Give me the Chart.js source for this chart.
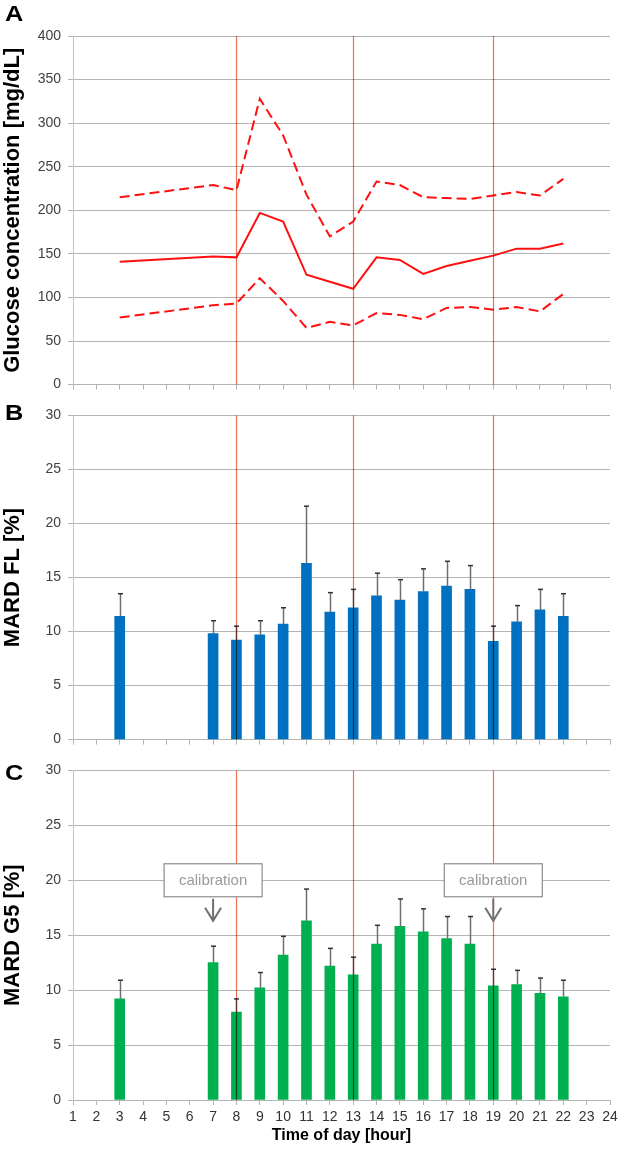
<!DOCTYPE html>
<html>
<head>
<meta charset="utf-8">
<script src="https://cdn.jsdelivr.net/npm/chart.js@4.4.1/dist/chart.umd.min.js"></script>
<style>
  body { margin: 0; background: #fff; width: 623px; height: 1151px; position: relative; overflow: hidden;
         font-family: "Liberation Sans", Arial, sans-serif; }
  .panel { position: absolute; left: 0; width: 623px; }
  .letter { position: absolute; left: 5px; font-weight: bold; font-size: 22px; line-height: 1; color: #000; transform: scaleX(1.15); transform-origin: left; }
</style>
</head>
<body>
<div class="panel" style="top:0;height:400px"><canvas id="chartA"></canvas></div>
<div class="panel" style="top:400px;height:355px"><canvas id="chartB"></canvas></div>
<div class="panel" style="top:755px;height:396px"><canvas id="chartC"></canvas></div>
<div class="letter" style="top:3px">A</div>
<div class="letter" style="top:402px">B</div>
<div class="letter" style="top:762px">C</div>
<script>
const hours = ['1','2','3','4','5','6','7','8','9','10','11','12','13','14','15','16','17','18','19','20','21','22','23','24'];

// panel A - glucose (mg/dL)
const glucoseMean  = [null,null,141,null,null,null,147,146,197,187,126,118,110,146,143,127,136,142,148,156,156,162,null,null];
const glucoseUpper = [null,null,215,null,null,null,229,223,328,286,218,170,187,233,229,215,214,213,217,221,217,236,null,null];
const glucoseLower = [null,null,77,null,null,null,91,93,122,96,65,72,68,82,80,75,88,89,86,89,84,104,null,null];

// panel B - MARD FreeStyle Libre (%), with upper end of error bar
const mardFL    = [null,null,11.4,null,null,null,9.8,9.2,9.7,10.7,16.3,11.8,12.2,13.3,12.9,13.7,14.2,13.9,9.1,10.9,12.0,11.4,null,null];
const mardFLTop = [null,null,13.5,null,null,null,11.0,10.5,11.0,12.2,21.6,13.6,13.9,15.4,14.8,15.8,16.5,16.1,10.5,12.4,13.9,13.5,null,null];

// panel C - MARD Dexcom G5 (%)
const mardG5    = [null,null,9.2,null,null,null,12.5,8.0,10.2,13.2,16.3,12.2,11.4,14.2,15.8,15.3,14.7,14.2,10.4,10.5,9.7,9.4,null,null];
const mardG5Top = [null,null,10.9,null,null,null,14.0,9.2,11.6,14.9,19.2,13.8,13.0,15.9,18.3,17.4,16.7,16.7,11.9,11.8,11.1,10.9,null,null];

const mealHours = ['8','13','19'];
const calibrationHours = ['7','19'];
const calibrationLevel = 20;

const GRID = '#b4b4b4';
const TICK_FONT = { family: '"Liberation Sans", Arial, sans-serif', size: 14 };

const extras = {
  id: 'extras',
  afterDatasetsDraw(chart, args, opts) {
    const { ctx, chartArea: a, scales: { x, y } } = chart;
    ctx.save();

    // error bars (upper only)
    if (opts.tops) {
      const vals = chart.data.datasets[0].data;
      opts.tops.forEach((top, i) => {
        if (top == null) return;
        const px = Math.round(x.getPixelForValue(i)) + 0.5;
        const y0 = y.getPixelForValue(vals[i]);
        const y1 = y.getPixelForValue(top);
        ctx.strokeStyle = '#6e6e6e';
        ctx.lineWidth = 1.5;
        ctx.beginPath(); ctx.moveTo(px, y0); ctx.lineTo(px, y1); ctx.stroke();
        ctx.strokeStyle = '#333';
        ctx.beginPath(); ctx.moveTo(px - 2.5, y1); ctx.lineTo(px + 2.5, y1); ctx.stroke();
      });
    }

    // meal time lines
    ctx.globalCompositeOperation = 'multiply';
    ctx.strokeStyle = '#ee7050';
    ctx.lineWidth = 1.2;
    mealHours.forEach(h => {
      const px = Math.round(x.getPixelForValue(hours.indexOf(h))) + 0.5;
      ctx.beginPath(); ctx.moveTo(px, a.top); ctx.lineTo(px, a.bottom); ctx.stroke();
    });
    ctx.globalCompositeOperation = 'source-over';

    // calibration callouts
    if (opts.calibration) {
      calibrationHours.forEach(h => {
        const cx = x.getPixelForValue(hours.indexOf(h));
        const cy = y.getPixelForValue(calibrationLevel);
        const w = 98, ht = 33;
        ctx.fillStyle = '#fff';
        ctx.fillRect(cx - w / 2, cy - ht / 2, w, ht);
        ctx.strokeStyle = '#8c8c8c';
        ctx.lineWidth = 1.2;
        ctx.strokeRect(cx - w / 2, cy - ht / 2, w, ht);
        ctx.fillStyle = '#9a9a9a';
        ctx.font = '15px "Liberation Sans", Arial, sans-serif';
        ctx.textAlign = 'center';
        ctx.textBaseline = 'middle';
        ctx.fillText('calibration', cx, cy + 1);
        // arrow
        const ay0 = cy + ht / 2 + 2, ay1 = cy + ht / 2 + 24;
        ctx.strokeStyle = '#707070';
        ctx.lineWidth = 2;
        ctx.beginPath(); ctx.moveTo(cx, ay0); ctx.lineTo(cx, ay1); ctx.stroke();
        ctx.beginPath(); ctx.moveTo(cx - 8, ay1 - 13); ctx.lineTo(cx, ay1); ctx.lineTo(cx + 8, ay1 - 13); ctx.stroke();
      });
    }
    ctx.restore();
  }
};

function makeOptions(cfg) {
  return {
    responsive: true,
    maintainAspectRatio: false,
    animation: false,
    layout: { padding: { top: cfg.padTop, right: 13, left: 0, bottom: 0 } },
    plugins: {
      legend: { display: false },
      tooltip: { enabled: false },
      extras: { tops: cfg.tops, calibration: cfg.calibration }
    },
    scales: {
      x: {
        type: 'category',
        offset: false,
        grid: { offset: false, drawOnChartArea: false, drawTicks: true, tickLength: 5, color: GRID },
        border: { color: GRID },
        ticks: { display: cfg.xLabels, autoSkip: false, maxRotation: 0, padding: 4, color: '#333', font: TICK_FONT },
        title: {
          display: cfg.xLabels,
          text: 'Time of day [hour]',
          color: '#000',
          font: { family: '"Liberation Sans", Arial, sans-serif', size: 16, weight: 'bold' },
          padding: { top: 0, bottom: 6 }
        },
        afterFit: s => { s.height = cfg.xHeight; }
      },
      y: {
        min: 0,
        max: cfg.yMax,
        ticks: { stepSize: cfg.yStep, padding: 7, color: '#404040', font: TICK_FONT },
        grid: { color: GRID, tickLength: 5 },
        border: { color: '#c4c4c4' },
        title: {
          display: true,
          text: cfg.yTitle,
          color: '#000',
          font: { family: '"Liberation Sans", Arial, sans-serif', size: 22, weight: 'bold' },
          padding: { top: 0, bottom: 0 }
        },
        afterFit: s => { s.width = 73; }
      }
    }
  };
}

new Chart(document.getElementById('chartA'), {
  type: 'line',
  data: {
    labels: hours,
    datasets: [
      { data: glucoseMean, borderColor: '#ff1010', borderWidth: 2, pointRadius: 0, spanGaps: true, tension: 0 },
      { data: glucoseUpper, borderColor: '#ff1010', borderWidth: 2, borderDash: [10, 5], pointRadius: 0, spanGaps: true, tension: 0 },
      { data: glucoseLower, borderColor: '#ff1010', borderWidth: 2, borderDash: [10, 5], pointRadius: 0, spanGaps: true, tension: 0 }
    ]
  },
  options: makeOptions({ padTop: 36, xHeight: 14, xLabels: false, yMax: 400, yStep: 50, yTitle: 'Glucose concentration [mg/dL]' }),
  plugins: [extras]
});

new Chart(document.getElementById('chartB'), {
  type: 'bar',
  data: {
    labels: hours,
    datasets: [{ data: mardFL, backgroundColor: '#0070c0', barThickness: 10 }]
  },
  options: makeOptions({ padTop: 9, xHeight: 11, xLabels: false, yMax: 30, yStep: 5, yTitle: 'MARD FL [%]', tops: mardFLTop }),
  plugins: [extras]
});

new Chart(document.getElementById('chartC'), {
  type: 'bar',
  data: {
    labels: hours,
    datasets: [{ data: mardG5, backgroundColor: '#00b050', barThickness: 10 }]
  },
  options: makeOptions({ padTop: 10, xHeight: 51, xLabels: true, yMax: 30, yStep: 5, yTitle: 'MARD G5 [%]', tops: mardG5Top, calibration: true }),
  plugins: [extras]
});
</script>
</body>
</html>
